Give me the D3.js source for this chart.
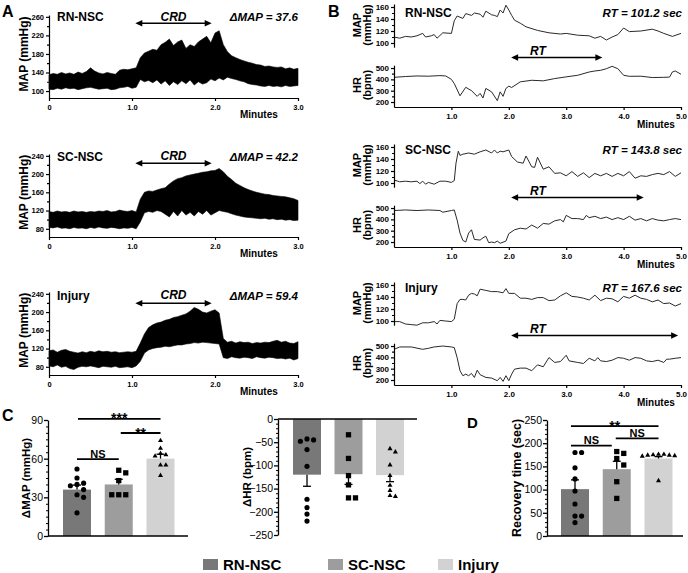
<!DOCTYPE html>
<html><head><meta charset="utf-8">
<script src="https://cdn.jsdelivr.net/npm/d3@7"></script>
<style>body{margin:0;background:#fff}svg{display:block}</style>
</head><body><script>
// ---------------- DATA ----------------
const groups = ["RN-NSC", "SC-NSC", "Injury"];
const barColors = ["#787878", "#9d9d9d", "#d2d2d2"];

// Panel A: MAP trace envelopes (mmHg), sampled every 0.05 min
const tA = [0,0.05,0.1,0.15,0.2,0.25,0.3,0.35,0.4,0.45,0.5,0.55,0.6,0.65,0.7,0.75,0.8,0.85,0.9,0.95,1.0,1.05,1.1,1.15,1.2,1.25,1.3,1.35,1.4,1.45,1.5,1.55,1.6,1.65,1.7,1.75,1.8,1.85,1.9,1.95,2.0,2.05,2.1,2.15,2.2,2.25,2.3,2.35,2.4,2.45,2.5,2.55,2.6,2.65,2.7,2.75,2.8,2.85,2.9,2.95,3.0];
const a1Upper = [135,138,136,140,137,139,136,141,138,142,150,143,139,137,140,138,136,145,147,146,148,150,172,182,186,190,188,200,205,212,198,206,210,192,200,196,206,212,218,204,225,230,200,185,176,172,168,165,162,160,157,156,153,154,152,151,152,148,150,147,149];
const a1Lower = [104,103,106,104,107,105,106,103,105,107,108,106,104,105,106,103,104,107,108,110,106,108,125,120,123,118,124,115,122,112,120,114,122,116,124,113,120,115,118,126,122,128,124,130,127,125,122,120,116,114,113,111,110,112,110,111,109,112,110,111,112];
const a2Upper = [118,116,119,117,118,116,119,117,118,116,118,117,119,118,120,117,118,121,119,118,120,117,145,160,163,162,165,168,170,178,185,190,192,196,198,200,202,204,205,207,208,212,205,195,188,180,175,170,166,163,160,158,156,155,153,152,151,150,148,146,142];
const a2Lower = [83,82,84,81,82,80,83,81,82,80,83,81,84,82,81,83,82,80,82,81,83,80,95,115,118,116,120,118,112,106,118,108,120,110,116,108,118,112,120,110,115,120,118,116,113,110,108,106,105,104,103,102,103,101,102,100,101,99,100,98,99];
const a3Upper = [115,117,112,116,118,114,112,110,113,111,114,112,115,113,114,112,113,111,112,113,112,114,132,152,166,172,176,178,182,184,188,190,193,196,202,210,206,200,198,202,205,198,142,134,136,132,135,133,134,131,133,132,134,133,136,138,134,136,132,131,135];
const a3Lower = [82,80,84,79,81,76,74,79,81,80,82,80,78,81,80,79,81,78,79,80,78,82,92,110,117,120,122,123,125,124,126,128,128,130,131,133,132,134,133,132,131,130,100,98,102,100,99,101,100,98,102,100,99,101,100,98,99,97,99,95,98];
const deltaMAP = [37.6, 42.2, 59.4];
const crdWindow = [1.04, 1.96];            // minutes

// Panel B: MAP and HR traces
const b1MapT = [0,0.1,0.2,0.3,0.4,0.5,0.55,0.65,0.7,0.75,0.85,1.0,1.05,1.1,1.2,1.25,1.35,1.4,1.5,1.55,1.6,1.7,1.75,1.8,1.85,1.9,1.95,2.0,2.05,2.1,2.2,2.3,2.5,2.7,2.9,3.0,3.2,3.4,3.5,3.6,3.7,3.8,3.9,4.0,4.1,4.3,4.5,4.6,4.7,4.85,5.0];
const b1MapV = [110,108,111,110,112,116,110,112,114,108,117,116,137,145,141,149,146,150,148,143,153,147,146,144,155,150,163,155,146,138,133,127,121,117,115,116,113,112,108,111,105,110,114,125,119,120,123,120,116,111,116];
const b1HrT = [0,0.2,0.4,0.6,0.8,0.9,1.0,1.05,1.15,1.25,1.35,1.45,1.5,1.55,1.6,1.7,1.8,1.85,1.9,1.95,2.0,2.05,2.2,2.4,2.6,2.8,3.0,3.2,3.4,3.5,3.6,3.7,3.8,3.9,4.0,4.1,4.3,4.5,4.7,4.8,4.85,4.9,5.0];
const b1HrV = [418,425,430,428,433,430,400,363,255,330,300,250,276,235,320,290,212,290,250,320,340,328,378,392,387,407,422,436,465,474,480,494,515,494,436,427,428,416,418,420,465,474,445];
const b2MapT = [0,0.1,0.2,0.3,0.4,0.45,0.5,0.55,0.6,0.7,0.8,0.9,1.0,1.05,1.08,1.12,1.15,1.2,1.3,1.4,1.5,1.6,1.7,1.75,1.8,1.85,1.9,2.0,2.05,2.15,2.25,2.3,2.4,2.45,2.5,2.6,2.7,2.8,2.9,3.0,3.1,3.2,3.3,3.4,3.5,3.6,3.7,3.8,3.9,4.0,4.1,4.2,4.3,4.4,4.5,4.6,4.7,4.8,4.9,5.0];
const b2MapV = [105,102,103,102,103,99,103,98,101,98,103,103,101,104,133,153,146,148,150,148,152,155,150,155,150,153,152,155,144,135,133,145,127,126,143,123,127,116,117,112,119,111,117,109,116,112,116,111,116,112,119,108,112,111,114,116,114,119,111,117];
const b2HrT = [0,0.2,0.4,0.6,0.8,0.85,1.0,1.05,1.1,1.15,1.2,1.25,1.3,1.35,1.4,1.5,1.55,1.6,1.65,1.7,1.75,1.8,1.85,1.95,2.0,2.1,2.2,2.3,2.4,2.5,2.6,2.7,2.8,2.9,2.95,3.0,3.1,3.2,3.3,3.35,3.4,3.5,3.6,3.7,3.8,3.9,4.0,4.1,4.2,4.3,4.4,4.5,4.6,4.7,4.8,4.9,5.0];
const b2HrV = [478,483,478,483,478,463,478,483,393,279,214,200,279,308,223,217,237,251,194,200,194,208,189,208,274,308,322,315,350,322,364,358,387,398,378,435,407,407,398,435,415,427,407,420,398,415,398,427,393,407,387,407,393,387,398,407,398];
const b3MapT = [0,0.1,0.2,0.3,0.4,0.5,0.6,0.7,0.75,0.8,0.9,1.0,1.05,1.1,1.15,1.2,1.25,1.3,1.35,1.4,1.45,1.5,1.6,1.7,1.8,1.9,1.95,2.0,2.1,2.2,2.3,2.4,2.5,2.6,2.7,2.8,2.9,3.0,3.1,3.2,3.3,3.4,3.5,3.6,3.7,3.8,3.9,4.0,4.1,4.2,4.3,4.4,4.5,4.6,4.7,4.8,4.9,5.0];
const b3MapV = [99,99,95,94,93,97,97,99,95,101,100,99,103,129,136,136,135,143,146,145,142,153,151,149,149,147,154,146,146,138,138,136,139,139,134,135,142,147,141,140,138,135,143,134,138,137,132,141,138,143,138,136,132,135,129,130,125,129];
const b3HrT = [0,0.1,0.3,0.5,0.6,0.7,0.85,1.0,1.05,1.1,1.15,1.2,1.25,1.3,1.35,1.4,1.45,1.5,1.6,1.7,1.8,1.85,1.9,1.95,2.0,2.05,2.1,2.2,2.3,2.4,2.5,2.6,2.7,2.8,2.9,3.0,3.05,3.2,3.3,3.4,3.5,3.55,3.6,3.7,3.8,3.9,4.0,4.1,4.2,4.3,4.4,4.5,4.6,4.7,4.75,4.8,4.9,5.0];
const b3HrV = [471,492,492,471,480,492,500,492,486,398,282,238,252,238,258,223,287,247,223,217,194,223,188,238,194,252,296,305,305,282,334,317,398,355,363,419,369,355,346,392,369,398,369,363,375,398,392,375,398,392,369,363,375,355,384,384,392,398];
const recoveryRT = [101.2, 143.8, 167.6];  // sec
const rtArrowFrom = 2.04;                  // minutes
const rtArrowTo = [3.63, 4.35, 4.95];      // minutes

// Panel C: delta MAP
const dMapMean = [36, 40, 60];
const dMapSem = [3.5, 4, 3.5];
const dMapRN = [52, 45, 41, 39, 40, 36, 32, 30, 18];
const dMapSC = [51, 49, 43, 32, 32, 32];
const dMapInj = [74, 68, 64, 63, 62, 55, 55, 47];
const dMapTicks = [0, 30, 60, 90];
// Panel C: delta HR
const dHrMean = [-120, -119, -121];
const dHrSem = [25, 22, 14];
const dHrRN = [-43, -48, -45, -66, -102, -173, -191, -205, -220];
const dHrSC = [-34, -85, -122, -142, -170, -170];
const dHrInj = [-64, -71, -99, -122, -143, -154, -165, -167];
const dHrTicks = [-250, -200, -150, -100, -50, 0];
// Panel D: recovery time
const rtMean = [101, 144, 167];
const rtSem = [20, 17, 4];
const rtRN = [180, 180, 147, 123, 97, 69, 43, 43, 29];
const rtSC = [182, 178, 167, 153, 117, 81];
const rtInj = [176, 175, 174, 172, 173, 174, 176, 119];
const rtTicks = [0, 50, 100, 150, 200, 250];

// ---------------- DRAWING ----------------
const FONT = '"Liberation Sans", Arial, Helvetica, sans-serif';
const svg = d3.select("body").append("svg").attr("width", 688).attr("height", 573)
  .style("font-family", FONT);

function txt(g, x, y, s, o = {}) {
  const t = g.append("text").attr("x", x).attr("y", y).text(s)
    .attr("font-size", o.size || 12).attr("font-weight", o.weight || "bold")
    .attr("font-style", o.style || "normal").attr("text-anchor", o.anchor || "start")
    .attr("fill", "#000");
  if (o.rotate) t.attr("transform", `rotate(-90,${x},${y})`);
  return t;
}
function styleAxis(g, fs, sw) {
  g.selectAll("path,line").attr("stroke", "#000").attr("stroke-width", sw || 1.2);
  g.selectAll("text").attr("font-size", fs).attr("font-weight", "bold").attr("font-family", FONT).attr("fill", "#000");
}
function arrow(g, x1, x2, y) {
  g.append("line").attr("x1", x1 + 5).attr("x2", x2 - 5).attr("y1", y).attr("y2", y)
    .attr("stroke", "#000").attr("stroke-width", 1.6);
  g.append("path").attr("d", `M${x1},${y} L${x1 + 7},${y - 3.3} L${x1 + 7},${y + 3.3} Z`).attr("fill", "#000");
  g.append("path").attr("d", `M${x2},${y} L${x2 - 7},${y - 3.3} L${x2 - 7},${y + 3.3} Z`).attr("fill", "#000");
}

// Panel letters
txt(svg, 2, 17, "A", { size: 16 });
txt(svg, 328, 17, "B", { size: 16 });
txt(svg, 2, 421, "C", { size: 16 });
txt(svg, 467, 428, "D", { size: 15 });

// ---- Panel A ----
const aUp = [a1Upper, a2Upper, a3Upper];
const aLo = [a1Lower, a2Lower, a3Lower];
const aCfg = [
  { dom: [85, 264], rng: [98, 15], ticks: [100, 140, 180, 220, 260], minor: [120, 160, 200, 240], lab: 21, arr: 23.3 },
  { dom: [62, 244], rng: [237, 154], ticks: [80, 120, 160, 200, 240], minor: [100, 140, 180, 220], lab: 160.7, arr: 163.3 },
  { dom: [62, 244], rng: [375, 292], ticks: [80, 120, 160, 200, 240], minor: [100, 140, 180, 220], lab: 299.5, arr: 303.3 }
];
const xA = d3.scaleLinear().domain([0, 3]).range([49, 298]);
aCfg.forEach((c, i) => {
  const g = svg.append("g");
  const y = d3.scaleLinear().domain(c.dom).range(c.rng);
  const area = d3.area().x((d, j) => xA(tA[j])).y0((d, j) => y(aLo[i][j])).y1((d, j) => y(aUp[i][j]));
  g.append("path").datum(tA).attr("d", area).attr("fill", "#000").attr("stroke", "#000").attr("stroke-width", 0.6);
  const ya = g.append("g").attr("transform", `translate(49,0)`)
    .call(d3.axisLeft(y).tickValues(c.ticks).tickSize(3).tickSizeOuter(0).tickPadding(2));
  styleAxis(ya, 7.5);
  const ym = g.append("g").attr("transform", `translate(49,0)`)
    .call(d3.axisLeft(y).tickValues(c.minor).tickSize(2).tickFormat(""));
  ym.select(".domain").remove(); styleAxis(ym, 7);
  const xa = g.append("g").attr("transform", `translate(0,${c.rng[0]})`)
    .call(d3.axisBottom(xA).tickValues([0, 1, 2, 3]).tickFormat(d => d === 0 ? "0" : d3.format(".1f")(d)).tickSize(3).tickSizeOuter(0).tickPadding(4));
  styleAxis(xa, 7.5);
  txt(g, 240, c.rng[0] + 20, "Minutes", { size: 10 });
  txt(g, 28, (y(c.ticks[0]) + y(c.ticks[4])) / 2, "MAP (mmHg)", { size: 12, anchor: "middle", rotate: true });
  txt(g, 57, c.lab, groups[i], { size: 12 });
  txt(g, 298, c.lab, "\u0394MAP = " + deltaMAP[i], { size: 11.5, style: "italic", anchor: "end" });
  txt(g, (xA(crdWindow[0]) + xA(crdWindow[1])) / 2, c.lab - 0.3, "CRD", { size: 12, style: "italic", anchor: "middle" });
  arrow(g, xA(crdWindow[0]), xA(crdWindow[1]), c.arr);
});

// ---- Panel B ----
const bMap = [[b1MapT, b1MapV], [b2MapT, b2MapV], [b3MapT, b3MapV]];
const bHr = [[b1HrT, b1HrV], [b2HrT, b2HrV], [b3HrT, b3HrV]];
const bOff = [0, 140, 278];
const bLab = [16.7, 154, 292];
const xB = d3.scaleLinear().domain([0, 5]).range([394, 681]);
bOff.forEach((o, i) => {
  const g = svg.append("g");
  const yM = d3.scaleLinear().domain([93, 165]).range([47.2 + o, 4 + o]);
  const yH = d3.scaleLinear().domain([156, 525]).range([107 + o, 65.2 + o]);
  const lineM = d3.line().x((d, j) => xB(bMap[i][0][j])).y(d => yM(d));
  const lineH = d3.line().x((d, j) => xB(bHr[i][0][j])).y(d => yH(d));
  g.append("path").datum(bMap[i][1]).attr("d", lineM).attr("fill", "none").attr("stroke", "#2a2a2a").attr("stroke-width", 1);
  g.append("path").datum(bHr[i][1]).attr("d", lineH).attr("fill", "none").attr("stroke", "#2a2a2a").attr("stroke-width", 1);
  const am = g.append("g").attr("transform", "translate(394,0)")
    .call(d3.axisLeft(yM).tickValues([100, 120, 140, 160]).tickSize(3).tickSizeOuter(0).tickPadding(2));
  styleAxis(am, 8);
  const amm = g.append("g").attr("transform", "translate(394,0)")
    .call(d3.axisLeft(yM).tickValues([110, 130, 150]).tickSize(2).tickFormat(""));
  amm.select(".domain").remove(); styleAxis(amm, 8);
  const ah = g.append("g").attr("transform", "translate(394,0)")
    .call(d3.axisLeft(yH).tickValues([200, 300, 400, 500]).tickSize(3).tickSizeOuter(0).tickPadding(2));
  styleAxis(ah, 8);
  const ahm = g.append("g").attr("transform", "translate(394,0)")
    .call(d3.axisLeft(yH).tickValues([250, 350, 450]).tickSize(2).tickFormat(""));
  ahm.select(".domain").remove(); styleAxis(ahm, 8);
  const ax = g.append("g").attr("transform", `translate(0,${107 + o})`)
    .call(d3.axisBottom(xB).tickValues([1, 2, 3, 4, 5]).tickFormat(d3.format(".1f")).tickSize(3).tickSizeOuter(0).tickPadding(3));
  styleAxis(ax, 8);
  txt(g, 637, 128 + o, "Minutes", { size: 10 });
  const mc = (yM(100) + yM(160)) / 2, hc = (yH(200) + yH(500)) / 2;
  txt(g, 361, mc, "MAP", { size: 11, anchor: "middle", rotate: true });
  txt(g, 371, mc, "(mmHg)", { size: 11, anchor: "middle", rotate: true });
  txt(g, 361, hc, "HR", { size: 11, anchor: "middle", rotate: true });
  txt(g, 371, hc, "(bpm)", { size: 11, anchor: "middle", rotate: true });
  txt(g, 405, bLab[i], groups[i], { size: 12 });
  txt(g, 682, bLab[i], "RT = " + recoveryRT[i] + " sec", { size: 11.5, style: "italic", anchor: "end" });
  const ay = yM(93) + 10.3;
  txt(g, 538, ay - 2.3, "RT", { size: 12, style: "italic", anchor: "middle" });
  arrow(g, xB(rtArrowFrom), xB(rtArrowTo[i]), ay);
});

// ---- Bar panels ----
function swarm(vals, y, cx, r) {
  const pts = vals.map(v => ({ v, py: y(v) }));
  const order = pts.slice().sort((a, b) => a.py - b.py);
  const placed = [], step = 2 * r + 1.4;
  for (const p of order) {
    for (let k = 0; k < 30; k++) {
      const off = (k === 0 ? 0 : (k % 2 ? 1 : -1) * Math.ceil(k / 2)) * step;
      const px = cx + off;
      if (placed.every(q => Math.hypot(q.px - px, q.py - p.py) >= 2 * r + 1)) { p.px = px; placed.push(p); break; }
    }
  }
  return pts;
}
const shapes = [d3.symbolCircle, d3.symbolSquare, d3.symbolTriangle];
const shapeSize = [21, 28, 11];
const shapeR = [2.6, 2.8, 2.0];

function barPanel(cfg) {
  const g = svg.append("g");
  const y = d3.scaleLinear().domain(cfg.dom).range(cfg.rng);
  const x = d3.scalePoint().domain(groups).range(cfg.centers);
  const bw = 28;
  const base = y(0);
  groups.forEach((grp, i) => {
    const v = cfg.mean[i];
    g.append("rect").attr("x", x(grp) - bw / 2).attr("width", bw)
      .attr("y", Math.min(y(v), base)).attr("height", Math.abs(y(v) - base)).attr("fill", barColors[i]);
  });
  // axes
  const ya = g.append("g").attr("transform", `translate(${cfg.ax},0)`)
    .call(d3.axisLeft(y).tickValues(cfg.ticks).tickSize(4).tickSizeOuter(0).tickPadding(1));
  styleAxis(ya, 10.5, 1.3);
  ya.selectAll("text").attr("font-weight", "normal");
  const ym = g.append("g").attr("transform", `translate(${cfg.ax},0)`)
    .call(d3.axisLeft(y).tickValues(cfg.minor).tickSize(2).tickFormat(""));
  ym.select(".domain").remove(); styleAxis(ym, 8, 1);
  g.append("line").attr("x1", cfg.ax).attr("x2", cfg.xEnd).attr("y1", base).attr("y2", base)
    .attr("stroke", "#000").attr("stroke-width", 1.4);
  // error bars (away from zero)
  groups.forEach((grp, i) => {
    const m = cfg.mean[i], e = m >= 0 ? m + cfg.sem[i] : m - cfg.sem[i];
    const cx = x(grp);
    g.append("line").attr("x1", cx).attr("x2", cx).attr("y1", y(m)).attr("y2", y(e)).attr("stroke", "#000").attr("stroke-width", 1.3);
    g.append("line").attr("x1", cx - 4).attr("x2", cx + 4).attr("y1", y(e)).attr("y2", y(e)).attr("stroke", "#000").attr("stroke-width", 1.3);
  });
  // points
  cfg.pts.forEach((vals, i) => {
    const pts = swarm(vals, y, x(groups[i]), shapeR[i]);
    g.selectAll(null).data(pts).enter().append("path")
      .attr("d", d3.symbol().type(shapes[i]).size(shapeSize[i]))
      .attr("transform", d => `translate(${d.px},${d.py})`).attr("fill", "#000");
  });
  // significance
  (cfg.sig || []).forEach(s => {
    const yy = y(s.y);
    const x1 = x(groups[s.a]) + (s.da || 0), x2 = x(groups[s.b]) + (s.db || 0);
    g.append("line").attr("x1", x1).attr("x2", x2).attr("y1", yy).attr("y2", yy).attr("stroke", "#000").attr("stroke-width", 1.8);
    const star = s.label.indexOf("*") >= 0;
    txt(g, (x1 + x2) / 2, star ? yy + 4.5 : yy - 1.5, s.label, { size: star ? 14 : 11, anchor: "middle" });
  });
  txt(g, cfg.labX, (cfg.rng[0] + cfg.rng[1]) / 2, cfg.title, { size: cfg.titleSize, anchor: "middle", rotate: true });
  return g;
}

barPanel({
  dom: [0, 90], rng: [536, 420], centers: [77, 160.5], ax: 48, xEnd: 188,
  ticks: dMapTicks, minor: d3.range(5, 90, 5).filter(v => v % 30), mean: dMapMean, sem: dMapSem,
  pts: [dMapRN, dMapSC, dMapInj], title: "\u0394MAP (mmHg)", titleSize: 11.5, labX: 30,
  sig: [{ a: 0, b: 2, y: 90.8, label: "***", da: 1 }, { a: 1, b: 2, y: 79.9, label: "**", da: 2 }, { a: 0, b: 1, y: 59.7, label: "NS" }]
});
barPanel({
  dom: [-250, 0], rng: [535, 419], centers: [307, 390], ax: 278, xEnd: 417,
  ticks: dHrTicks, minor: d3.range(-240, 0, 10).filter(v => v % 50), mean: dHrMean, sem: dHrSem,
  pts: [dHrRN, dHrSC, dHrInj], title: "\u0394HR (bpm)", titleSize: 11.5, labX: 251
});
barPanel({
  dom: [0, 250], rng: [536, 420], centers: [575, 658.5], ax: 547, xEnd: 683,
  ticks: rtTicks, minor: d3.range(10, 250, 10).filter(v => v % 50), mean: rtMean, sem: rtSem,
  pts: [rtRN, rtSC, rtInj], title: "Recovery time (sec)", titleSize: 12.5, labX: 521,
  sig: [{ a: 0, b: 2, y: 237, label: "**", da: -4 }, { a: 0, b: 1, y: 194.6, label: "NS", da: -4, db: -5 }, { a: 1, b: 2, y: 210.6, label: "NS", da: -1 }]
});

// ---- Legend ----
const legX = [203, 328, 438];
groups.forEach((grp, i) => {
  svg.append("rect").attr("x", legX[i]).attr("y", 559).attr("width", 15).attr("height", 11).attr("fill", barColors[i]);
  txt(svg, legX[i] + 20, 570, grp, { size: 15 });
});
</script></body></html>
